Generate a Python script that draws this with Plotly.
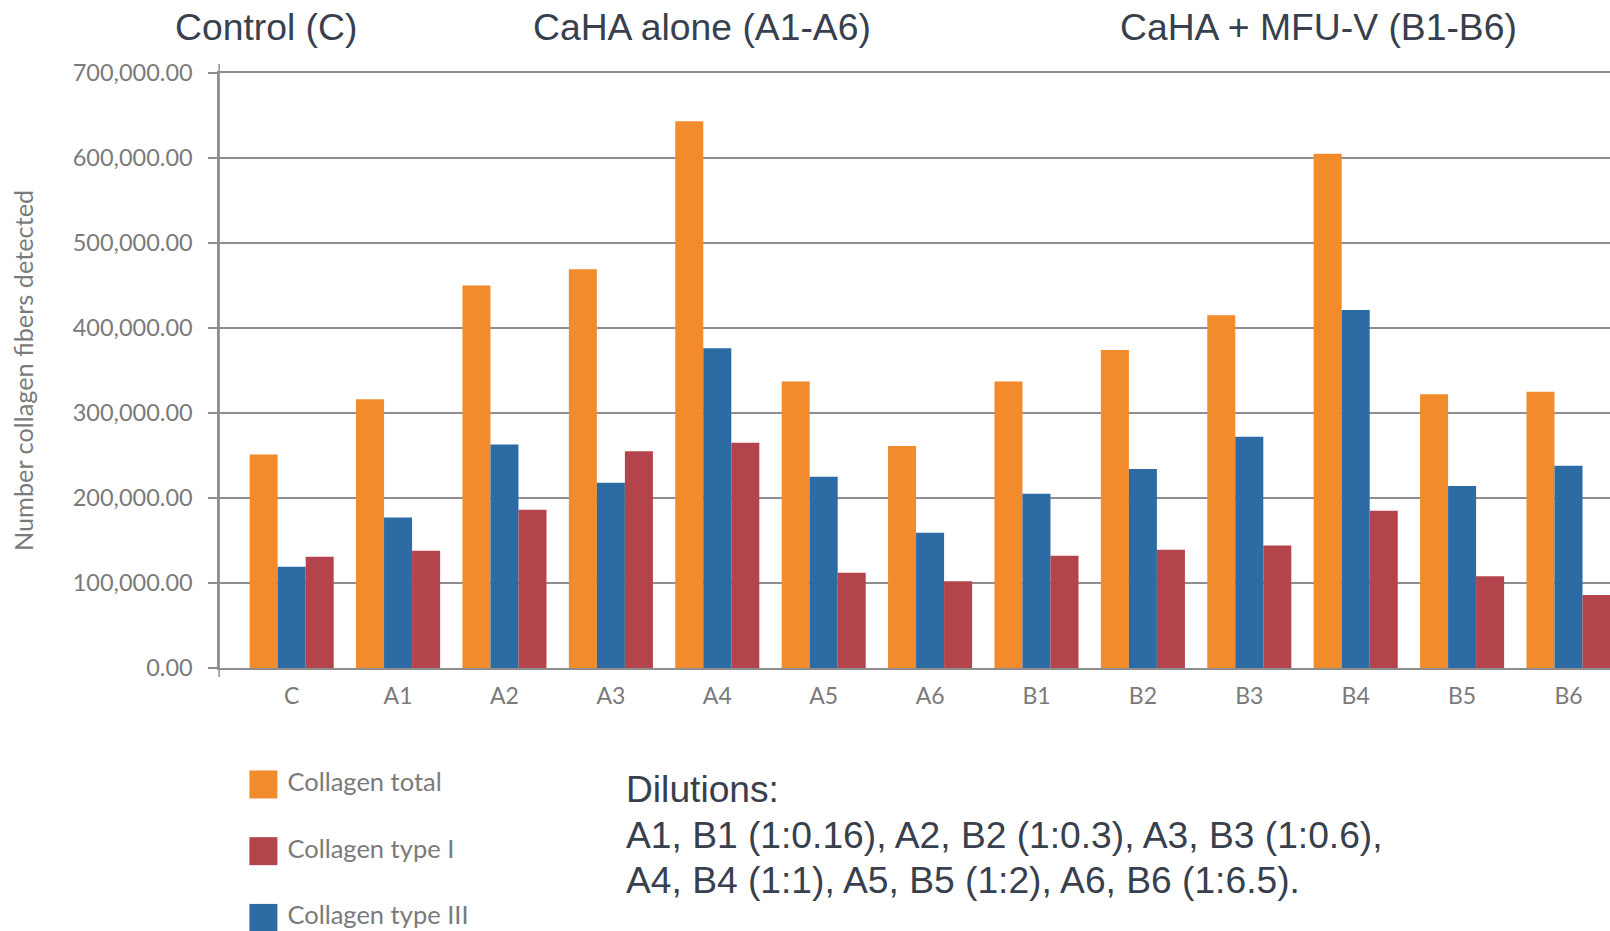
import plotly.graph_objects as go

# Sample groups on the x axis
categories = ["C", "A1", "A2", "A3", "A4", "A5", "A6", "B1", "B2", "B3", "B4", "B5", "B6"]

# Number of collagen fibers detected per sample
collagen_total = [251000, 316000, 450000, 469000, 643000, 337000, 261000,
                  337000, 374000, 415000, 605000, 322000, 325000]
collagen_type_iii = [119000, 177000, 263000, 218000, 376000, 225000, 159000,
                     205000, 234000, 272000, 421000, 214000, 238000]
collagen_type_i = [131000, 138000, 186000, 255000, 265000, 112000, 102000,
                   132000, 139000, 144000, 185000, 108000, 86000]

y_ticks = [0, 100000, 200000, 300000, 400000, 500000, 600000, 700000]
y_tick_labels = ["0.00", "100,000.00", "200,000.00", "300,000.00",
                 "400,000.00", "500,000.00", "600,000.00", "700,000.00"]

legend_names = ["Collagen total", "Collagen type I", "Collagen type III"]

group_titles = ["Control (C)", "CaHA alone (A1-A6)", "CaHA + MFU-V (B1-B6)"]
dilution_lines = ["Dilutions:",
                  "A1, B1 (1:0.16), A2, B2 (1:0.3), A3, B3 (1:0.6),",
                  "A4, B4 (1:1), A5, B5 (1:2), A6, B6 (1:6.5)."]

ORANGE = "#F28B2B"
BLUE = "#2C6BA3"
RED = "#B4444B"
GRID = "#8E8E8E"
TICK_TXT = "#7A7A7A"
DARK = "#38404E"
FONT = "Lato"

W, H = 1610, 931
x_dom = [219.1 / W, 1.0]
y_dom = [(H - 668.0) / H, (H - 72.9) / H]

fig = go.Figure()

bar_series = [
    ("Collagen total", collagen_total, ORANGE),
    ("Collagen type III", collagen_type_iii, BLUE),
    ("Collagen type I", collagen_type_i, RED),
]
for name, vals, col in bar_series:
    fig.add_trace(go.Bar(
        x=categories, y=vals, name=name,
        marker=dict(color=col, line=dict(width=0)),
        showlegend=False, xaxis="x", yaxis="y",
    ))

# Key drawn on its own small axes below the chart: swatches, then labels
legend_colors = [ORANGE, RED, BLUE]
legend_rows = [0, 1, 2]
fig.add_trace(go.Scatter(
    x=[0] * len(legend_rows), y=legend_rows,
    mode="markers",
    marker=dict(symbol="square", size=28, color=legend_colors, line=dict(width=0)),
    showlegend=False, hoverinfo="skip",
    xaxis="x2", yaxis="y2", cliponaxis=False,
))
fig.add_trace(go.Scatter(
    x=[24] * len(legend_rows), y=legend_rows,
    mode="text",
    text=legend_names, textposition="middle right",
    textfont=dict(family=FONT, size=25.5, color=TICK_TXT),
    showlegend=False, hoverinfo="skip",
    xaxis="x2", yaxis="y2", cliponaxis=False,
))

fig.update_layout(
    width=W, height=H,
    margin=dict(l=0, r=0, t=0, b=0, autoexpand=False),
    paper_bgcolor="white", plot_bgcolor="white",
    barmode="group", bargap=0.21, bargroupgap=0.0,
    showlegend=False,
    font=dict(family=FONT, color=TICK_TXT),
    xaxis=dict(
        domain=x_dom, range=[-0.682, 12.39], automargin=False,
        showgrid=False, zeroline=False,
        # bottom and top frame lines coincide with the 0 and 700k gridlines
        showline=True, mirror=True, linecolor=GRID, linewidth=1.5,
        ticks="", tickfont=dict(family=FONT, size=23, color=TICK_TXT),
        ticklabelstandoff=7, anchor="y", fixedrange=True,
    ),
    yaxis=dict(
        domain=y_dom, range=[0, 700000], automargin=False,
        tickvals=y_ticks, ticktext=y_tick_labels,
        showgrid=True, gridcolor=GRID, gridwidth=1.5,
        zeroline=False, showline=True, linecolor=GRID, linewidth=1.5,
        ticks="outside", ticklen=9, tickwidth=1.5, tickcolor=GRID,
        tickfont=dict(family=FONT, size=23.5, color=TICK_TXT),
        ticklabelstandoff=11,
        title=dict(text="Number collagen fibers detected",
                   font=dict(family=FONT, size=25.3, color=TICK_TXT), standoff=32),
        anchor="x", fixedrange=True,
    ),
    xaxis2=dict(domain=[0, 0.5], range=[-263.4, 541.6], visible=False,
                anchor="y2", automargin=False),
    yaxis2=dict(domain=[0, (H - 760) / H], range=[2.196, -0.366], visible=False,
                anchor="x2", automargin=False),
)

# Vertical axis line slightly extended past the plot area
fig.add_shape(type="line", xref="paper", yref="paper",
              x0=x_dom[0], x1=x_dom[0], y0=y_dom[0] - 9 / H, y1=y_dom[1] + 9 / H,
              line=dict(color=GRID, width=1.5))

title_x = [266, 702, 1318]
for t, px in zip(group_titles, title_x):
    fig.add_annotation(text=t, xref="paper", yref="paper",
                       x=px / W, y=(H - 26.7) / H, xanchor="center", yanchor="middle",
                       showarrow=False,
                       font=dict(family="Liberation Sans", size=37.3, color=DARK))

dilution_y = [788.6, 834.8, 880.0]
for line, py in zip(dilution_lines, dilution_y):
    fig.add_annotation(text=line, xref="paper", yref="paper",
                       x=624 / W, y=(H - py) / H, xanchor="left", yanchor="middle",
                       align="left", showarrow=False,
                       font=dict(family="Liberation Sans", size=37.2, color=DARK))

fig.write_html("out.html")
